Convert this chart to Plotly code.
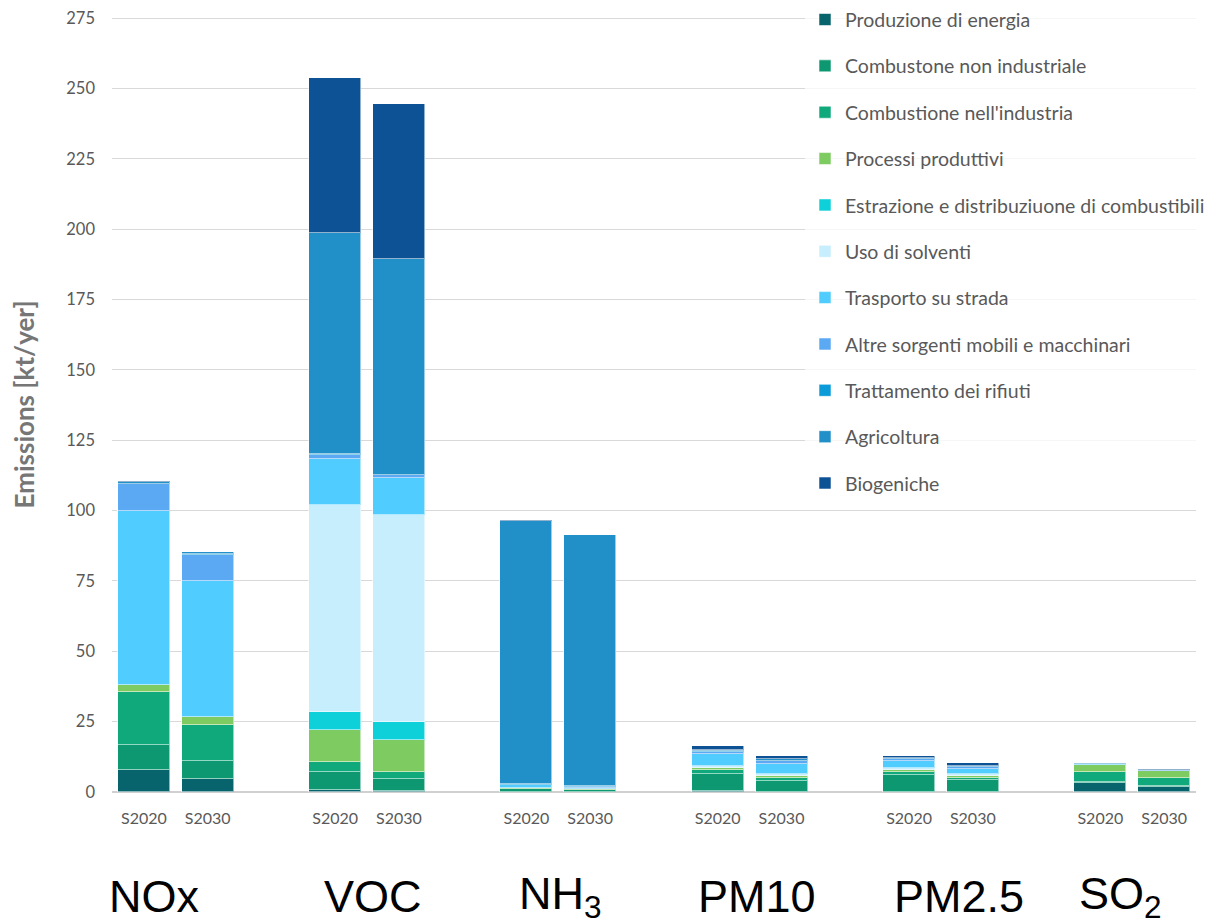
import plotly.graph_objects as go

# ---- data ----
pollutants = ["NOx", "VOC", "NH<sub>3</sub>", "PM10", "PM2.5", "SO<sub>2</sub>"]
scenarios = ["S2020", "S2030"]

sectors = [
    "Produzione di energia",
    "Combustone non industriale",
    "Combustione nell'industria",
    "Processi produttivi",
    "Estrazione e distribuziuone di combustibili",
    "Uso di solventi",
    "Trasporto su strada",
    "Altre sorgenti mobili e macchinari",
    "Trattamento dei rifiuti",
    "Agricoltura",
    "Biogeniche",
]

# values ordered: NOx S2020, NOx S2030, VOC S2020, VOC S2030, NH3..., PM10..., PM2.5..., SO2...
produzione   = [7.7, 4.7, 0.6, 0.3, 0.1, 0.05, 0.2, 0.1, 0.15, 0.1, 3.1, 1.8]
comb_non_ind = [9.1, 6.2, 6.6, 4.4, 0.8, 0.5, 6.1, 3.8, 5.85, 4.3, 0.4, 0.4]
comb_ind     = [18.7, 13.0, 3.45, 2.5, 0.2, 0.15, 1.4, 1.2, 1.2, 0.7, 3.6, 2.8]
processi     = [2.4, 2.6, 11.5, 11.3, 0.3, 0.3, 0.9, 0.7, 0.5, 0.5, 2.6, 2.35]
estrazione   = [0.1, 0.1, 6.1, 6.25, 0.05, 0.05, 0.05, 0.05, 0.05, 0.05, 0.05, 0.05]
solventi     = [0.0, 0.0, 73.6, 73.6, 0.1, 0.1, 0.7, 0.7, 0.7, 0.7, 0.0, 0.0]
trasporto    = [61.9, 48.4, 16.3, 13.1, 0.8, 0.4, 4.05, 3.55, 2.6, 1.9, 0.1, 0.1]
altre        = [9.5, 9.3, 1.6, 1.1, 0.1, 0.1, 0.9, 0.75, 0.5, 0.7, 0.2, 0.3]
rifiuti      = [0.2, 0.2, 0.3, 0.2, 0.5, 0.4, 0.3, 0.3, 0.2, 0.1, 0.05, 0.1]
agricoltura  = [0.7, 0.6, 78.4, 76.5, 93.4, 89.1, 0.5, 0.6, 0.3, 0.2, 0.05, 0.05]
biogeniche   = [0.3, 0.3, 55.3, 55.1, 0.3, 0.25, 1.3, 1.2, 0.7, 0.9, 0.3, 0.35]

series = [produzione, comb_non_ind, comb_ind, processi, estrazione, solventi,
          trasporto, altre, rifiuti, agricoltura, biogeniche]

colors = ["#07636c", "#0e9871", "#0fa97b", "#7ecb62", "#0dd0d9", "#c6eefc",
          "#50cdfe", "#5ba9f3", "#0b9bd8", "#2290c8", "#0c5295"]

y_ticks = [0, 25, 50, 75, 100, 125, 150, 175, 200, 225, 250, 275]

# ---- layout helpers: each pollutant uses 3 slots (2 bars + gap) ----
x_pos = [g * 3 + s for g in range(len(pollutants)) for s in range(len(scenarios))]
x_text = [scenarios[s] for g in range(len(pollutants)) for s in range(len(scenarios))]
label_offsets = [-0.33, 0.09, 0.03, 0.12, 0.28, -0.18]

FONT = "Lato, 'Open Sans', sans-serif"
GREY = "#595959"

fig = go.Figure()
for name, vals, col in zip(sectors, series, colors):
    fig.add_trace(go.Bar(
        x=x_pos, y=vals, name=name, legendgroup=name,
        marker=dict(color=col, line=dict(color="rgba(255,255,255,0.55)", width=1)),
        width=0.815,
    ))

annotations = []
for g, lab in enumerate(pollutants):
    annotations.append(dict(
        x=g * 3 + 0.5 + label_offsets[g], xref="x",
        y=-0.1345, yref="paper", yanchor="middle", xanchor="center",
        text=lab, showarrow=False,
        font=dict(family="'Liberation Sans', Arial, sans-serif", size=45, color="#000000"),
    ))

fig.update_layout(
    width=1214, height=924,
    barmode="stack",
    bargap=0,
    plot_bgcolor="white", paper_bgcolor="white",
    margin=dict(l=104, r=26, t=9, b=140, autoexpand=False),
    font=dict(family=FONT, color=GREY),
    xaxis=dict(
        range=[-0.5, 16.5], tickmode="array", tickvals=x_pos, ticktext=x_text,
        showgrid=False, zeroline=False, showline=False, ticks="",
        tickfont=dict(size=16, color=GREY, family=FONT), ticklabelstandoff=15,
    ),
    yaxis=dict(
        range=[0, 275.36], tickmode="array", tickvals=y_ticks,
        showgrid=True, gridcolor="#d9d9d9", gridwidth=1,
        zeroline=True, zerolinecolor="#d0d0d0", zerolinewidth=1.5,
        showline=False, ticks="", ticklabeloverflow="allow",
        tickfont=dict(size=16.5, color=GREY, family=FONT), ticklabelstandoff=16,
        title=dict(text="<b>Emissions [kt/yer]</b>", font=dict(size=26, color="#767676", family=FONT),
                   standoff=42),
    ),
    legend=dict(
        x=0.6393, xanchor="left", y=1.0215, yanchor="top",
        bgcolor="rgba(255,255,255,0.75)",
        font=dict(size=19.5, color=GREY, family=FONT),
        traceorder="grouped", tracegroupgap=18,
        itemwidth=30, maxheight=800,
    ),
    annotations=annotations,
)

fig.write_html("out.html")
